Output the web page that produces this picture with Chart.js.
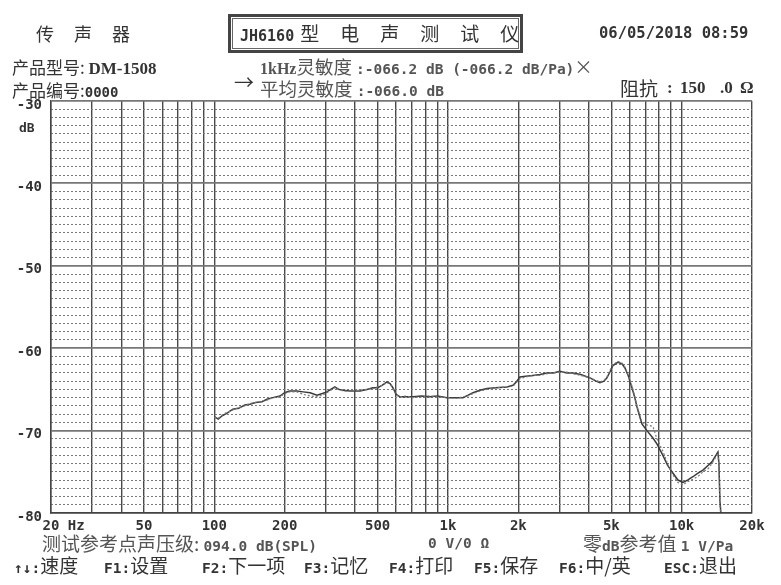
<!DOCTYPE html>
<html>
<head>
<meta charset="utf-8">
<script src="https://cdn.jsdelivr.net/npm/chart.js@4.4.1/dist/chart.umd.min.js"></script>
<style>
body { margin: 0; background: #fff; }
#wrap { position: relative; width: 781px; height: 585px; overflow: hidden; color: #333; }
#wrap canvas { position: absolute; left: 0; top: 0; }
.t { position: absolute; white-space: pre; line-height: 20px; font-family: "Noto Sans CJK SC", sans-serif; font-size: 17px; }
.m { font-family: "DejaVu Sans Mono", monospace; font-weight: bold; }
.s { font-family: "Liberation Serif", serif; font-weight: bold; }
.g { color: #555; }
.f { font-size: 19px; }
.f .m { font-size: 14.5px; }
#box { position: absolute; left: 228px; top: 14px; width: 289px; height: 33px; border: 3px solid #444;
       box-shadow: inset 0 0 0 1px #fff, inset 0 0 0 2px #666; }
</style>
</head>
<body>
<div id="wrap">
  <canvas id="fr" width="781" height="585"></canvas>

  <div class="t" style="left:36px;top:23px;font-size:18px;letter-spacing:20px;">传声器</div>
  <div id="box"></div>
  <div class="t" style="left:240px;top:23px;font-size:19px;"><span class="m" style="font-size:15px;">JH6160</span><span style="letter-spacing:21px;margin-left:6px;">型电声测试仪</span></div>
  <div class="t m" style="left:599px;top:23px;font-size:15.5px;">06/05/2018 08:59</div>

  <div class="t" style="left:12px;top:57px;">产品型号: <span class="s">DM-1508</span></div>
  <div class="t" style="left:12px;top:80px;">产品编号:<span class="m" style="font-size:14px;">0000</span></div>

  <div class="t" style="left:234px;top:72px;font-size:20px;">→</div>
  <div class="t g" style="left:260px;top:56px;font-size:18.5px;"><span class="s" style="font-size:16px;">1kHz</span>灵敏度 <span class="m" style="font-size:14.5px;">:-066.2 dB (-066.2 dB/Pa)</span>×</div>
  <div class="t g" style="left:260px;top:78px;font-size:18.5px;">平均灵敏度 <span class="m" style="font-size:14.5px;">:-066.0 dB</span></div>
  <div class="t" style="left:620px;top:78px;font-size:19px;">阻抗</div>
  <div class="t s" style="left:667px;top:78px;">:</div>
  <div class="t s" style="left:680px;top:78px;">150</div>
  <div class="t s" style="left:720px;top:78px;">.0</div>
  <div class="t s" style="left:740px;top:78px;">Ω</div>

  <div class="t m" style="left:19px;top:118px;font-size:13px;">dB</div>

  <div class="t g f" style="left:42px;top:533px;">测试参考点声压级: <span class="m">094.0 dB(SPL)</span></div>
  <div class="t m g" style="left:428px;top:533px;font-size:14.5px;">0 V/0 Ω</div>
  <div class="t g f" style="left:583px;top:533px;">零<span class="m">dB</span>参考值 <span class="m">1 V/Pa</span></div>

  <div class="t f" style="left:14px;top:555px;"><span class="m">↑↓:</span>速度</div>
  <div class="t f" style="left:104px;top:555px;"><span class="m">F1:</span>设置</div>
  <div class="t f" style="left:202px;top:555px;"><span class="m">F2:</span>下一项</div>
  <div class="t f" style="left:304px;top:555px;"><span class="m">F3:</span>记忆</div>
  <div class="t f" style="left:389px;top:555px;"><span class="m">F4:</span>打印</div>
  <div class="t f" style="left:474px;top:555px;"><span class="m">F5:</span>保存</div>
  <div class="t f" style="left:559px;top:555px;"><span class="m">F6:</span>中/英</div>
  <div class="t f" style="left:664px;top:555px;"><span class="m">ESC:</span>退出</div>
</div>

<script>
// frequency response (Hz / dB)
const freqs = [100, 104, 108, 113, 120, 127, 135, 142, 150, 160, 168, 178, 191, 200, 210, 226, 240, 257, 275, 290,
  303, 315, 328, 340, 355, 380, 420, 450, 477, 500, 522, 548, 565, 581, 600, 623, 660, 708, 770, 837,
  900, 990, 1080, 1159, 1220, 1279, 1370, 1468, 1600, 1788, 1897, 1960, 2031, 2150, 2310, 2480, 2652, 2820, 3014, 3228,
  3426, 3700, 4050, 4300, 4469, 4650, 4788, 4950, 5081, 5338, 5550, 5719, 5900, 6128, 6300, 6436, 6600, 6762, 7102, 7534,
  7836, 8312, 8700, 9086, 9638, 10124, 10600, 11170, 11700, 12332, 13000, 13473, 14152, 14300, 14437, 14580, 14860];

const solidDb = [-68.3, -68.6, -68.2, -67.9, -67.4, -67.3, -66.9, -66.8, -66.6, -66.5, -66.2, -66.0, -65.8, -65.4, -65.2, -65.2, -65.3, -65.4, -65.7, -65.5,
  -65.3, -65.0, -64.7, -65.0, -65.1, -65.2, -65.2, -65.0, -64.8, -64.8, -64.5, -64.1, -64.3, -64.8, -65.6, -65.9, -65.9, -65.9, -65.8, -65.9,
  -65.8, -66.0, -66.0, -66.0, -65.7, -65.4, -65.1, -64.9, -64.8, -64.7, -64.5, -64.1, -63.5, -63.4, -63.3, -63.2, -63.0, -63.0, -62.8, -63.0,
  -63.0, -63.2, -63.6, -64.0, -64.2, -64.0, -63.6, -62.8, -62.1, -61.7, -61.9, -62.4, -63.3, -64.8, -66.0, -67.1, -68.2, -69.2, -70.0, -70.9,
  -71.6, -73.0, -74.2, -75.0, -76.0, -76.3, -76.0, -75.6, -75.2, -74.8, -74.2, -73.8, -72.8, -72.6, -74.0, -78.5, -81.5];

const dottedDb = [-68.4, -68.5, -68.1, -67.8, -67.5, -67.2, -67.0, -66.7, -66.6, -66.4, -66.3, -66.0, -65.9, -65.5, -65.3, -65.3, -65.6, -65.8, -65.9, -65.7,
  -65.4, -65.1, -64.8, -64.9, -65.2, -65.2, -65.1, -65.0, -64.9, -64.7, -64.5, -64.2, -64.3, -64.9, -65.7, -65.9, -65.8, -66.0, -65.9, -65.8,
  -65.9, -66.0, -66.1, -65.9, -65.8, -65.5, -65.2, -65.0, -64.8, -64.7, -64.6, -64.2, -63.7, -63.5, -63.3, -63.3, -63.1, -63.0, -62.9, -62.9,
  -63.1, -63.3, -63.6, -63.9, -64.1, -63.9, -63.5, -62.6, -62.0, -61.6, -61.8, -62.3, -63.2, -64.6, -65.8, -67.0, -68.0, -69.0, -69.3, -69.5,
  -71.0, -72.5, -74.0, -75.2, -76.3, -76.6, -76.2, -75.9, -75.6, -75.0, -74.6, -74.0, -73.0, -72.7, -74.5, -79.0, -82.0];

const xTicks = [20, 30, 40, 50, 60, 70, 80, 90, 100, 200, 300, 400, 500, 600, 700, 800, 900,
  1000, 2000, 3000, 4000, 5000, 6000, 7000, 8000, 9000, 10000, 20000];
const xLabels = { 20: "   20 Hz", 50: "50", 100: "100", 200: "200", 500: "500", 1000: "1k",
  2000: "2k", 5000: "5k", 10000: "10k", 20000: "20k" };
const yTicks = [-80, -70, -60, -50, -40, -30];

const tickFont = { family: "DejaVu Sans Mono", size: 14, weight: "bold" };

new Chart(document.getElementById("fr").getContext("2d"), {
    type: "line",
    data: {
        datasets: [{
            data: freqs.map((f, i) => ({ x: f, y: dottedDb[i] })),
            borderColor: "#7a7a7a",
            borderWidth: 1.2,
            borderDash: [2, 2],
            pointRadius: 0
        }, {
            data: freqs.map((f, i) => ({ x: f, y: solidDb[i] })),
            borderColor: "#3a3a3a",
            borderWidth: 1.5,
            pointRadius: 0
        }]
    },
    options: {
        responsive: false,
        animation: false,
        layout: { padding: { left: 0, right: 29, top: 101, bottom: 0 } },
        plugins: { legend: { display: false }, tooltip: { enabled: false } },
        scales: {
            x: {
                type: "logarithmic",
                min: 20,
                max: 20000,
                afterBuildTicks: s => { s.ticks = xTicks.map(v => ({ value: v })); },
                afterFit: s => { s.height = 72; },
                ticks: { autoSkip: false, maxRotation: 0, padding: 5, color: "#333", font: tickFont,
                         callback: v => xLabels[v] || "" },
                grid: { color: "#4a4a4a", lineWidth: 1.4, drawTicks: false },
                border: { color: "#444", width: 1.5 }
            },
            y: {
                min: -80,
                max: -30,
                afterBuildTicks: s => { s.ticks = yTicks.map(v => ({ value: v })); },
                afterFit: s => { s.width = 51; },
                ticks: { padding: 9, labelOffset: 4, color: "#333", font: tickFont },
                grid: { color: "#777", lineWidth: 1.8, drawTicks: false },
                border: { color: "#444", width: 1.5 }
            },
            y2: {
                position: "left",
                min: -80,
                max: -30,
                afterFit: s => { s.width = 0; },
                ticks: { display: false, stepSize: 1 },
                grid: { drawTicks: false, lineWidth: 1,
                        color: c => (c.tick.value % 10 === 0 ? "rgba(0,0,0,0)" : "#7a7a7a") },
                border: { display: false, dash: [2, 2] }
            }
        }
    }
});
</script>
</body>
</html>
